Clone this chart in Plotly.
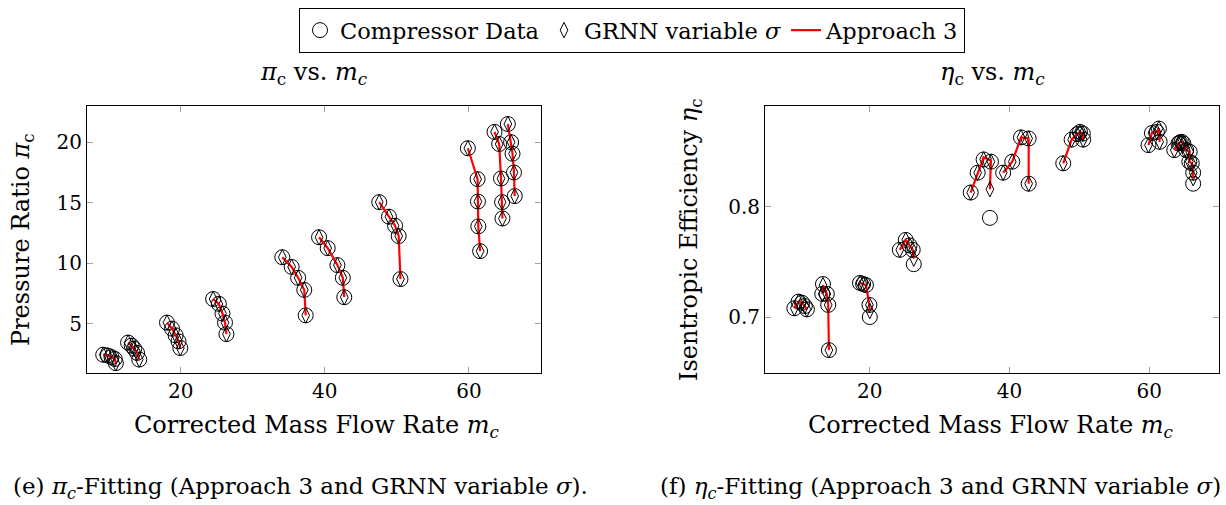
import plotly.graph_objects as go

# ---------------- pressure ratio map (pi_c vs m_c) ----------------
# one entry per measured point; pi_line gives the speed line each point belongs to
pi_line = [1]*5 + [2]*5 + [3]*5 + [4]*5 + [5]*5 + [6]*5 + [7]*5 + [8]*5 + [9]*5 + [10]*5
m_pi = [9.25, 9.9, 10.4, 10.85, 11.0,
        12.7, 13.2, 13.55, 13.95, 14.25,
        18.1, 18.8, 19.3, 19.7, 19.95,
        24.5, 25.3, 25.8, 26.15, 26.35,
        34.1, 35.4, 36.3, 37.15, 37.35,
        39.2, 40.4, 41.75, 42.5, 42.7,
        47.55, 48.9, 49.75, 50.25, 50.5,
        59.85, 61.2, 61.25, 61.3, 61.55,
        63.55, 64.2, 64.45, 64.6, 64.65,
        65.4, 65.85, 66.05, 66.25, 66.35]
pi_data = [2.45, 2.38, 2.25, 2.1, 1.75,
           3.45, 3.2, 2.95, 2.6, 2.05,
           5.1, 4.6, 4.05, 3.55, 3.0,
           7.05, 6.65, 5.85, 5.1, 4.15,
           10.5, 9.7, 8.8, 7.8, 5.7,
           12.15, 11.25, 9.85, 8.8, 7.2,
           15.05, 13.85, 13.1, 12.25, 8.7,
           19.5, 16.95, 15.1, 13.05, 11.0,
           20.85, 19.85, 17.0, 15.05, 13.7,
           21.5, 20.0, 19.05, 17.5, 15.55]
pi_grnn = [2.45, 2.38, 2.25, 2.1, 1.75,
           3.45, 3.2, 2.95, 2.6, 2.05,
           5.1, 4.6, 4.05, 3.55, 3.0,
           7.05, 6.65, 5.85, 5.1, 4.15,
           10.5, 9.7, 8.8, 7.8, 5.7,
           12.15, 11.25, 9.85, 8.8, 7.2,
           15.05, 13.85, 13.1, 12.25, 8.7,
           19.5, 16.95, 15.1, 13.05, 11.0,
           20.85, 19.85, 17.0, 15.05, 13.7,
           21.5, 20.0, 19.05, 17.5, 15.55]
pi_app3 = [2.45, 2.38, 2.25, 2.1, 1.75,
           3.45, 3.2, 2.95, 2.6, 2.05,
           5.1, 4.6, 4.05, 3.55, 3.0,
           7.05, 6.65, 5.85, 5.1, 4.15,
           10.5, 9.7, 8.8, 7.8, 5.7,
           12.15, 11.25, 9.85, 8.8, 7.2,
           15.05, 13.85, 13.1, 12.25, 8.7,
           19.5, 16.95, 15.1, 13.05, 11.0,
           20.85, 19.85, 17.0, 15.05, 13.7,
           21.5, 20.0, 19.05, 17.5, 15.55]

# ---------------- efficiency map (eta_c vs m_c) ----------------
eta_line = [1]*5 + [2]*5 + [3]*5 + [4]*5 + [5]*5 + [6]*5 + [7]*6 + [8]*5 + [9]*11
m_eta = [9.2, 9.8, 10.3, 10.7, 11.0,
         13.2, 13.3, 13.85, 14.05, 14.15,
         18.6, 19.05, 19.45, 19.95, 20.0,
         24.3, 25.15, 25.7, 26.15, 26.3,
         34.45, 35.45, 36.3, 37.35, 37.2,
         39.1, 40.4, 41.65, 42.75, 42.75,
         47.7, 48.9, 49.7, 50.1, 50.5, 50.55,
         59.9, 60.4, 61.1, 61.4, 61.5,
         63.6, 64.2, 64.4, 64.65, 64.9, 65.3, 65.8, 65.75, 66.1, 66.3, 66.3]
eta_data = [0.708, 0.714, 0.713, 0.710, 0.707,
            0.721, 0.730, 0.721, 0.711, 0.670,
            0.731, 0.730, 0.729, 0.711, 0.700,
            0.761, 0.770, 0.765, 0.761, 0.748,
            0.813, 0.831, 0.843, 0.841, 0.790,
            0.831, 0.841, 0.863, 0.862, 0.821,
            0.8395, 0.861, 0.866, 0.868, 0.8665, 0.861,
            0.856, 0.867, 0.868, 0.871, 0.859,
            0.8515, 0.8575, 0.8585, 0.859, 0.8575, 0.8515, 0.850, 0.841, 0.8395, 0.831, 0.821]
eta_grnn = [0.708, 0.714, 0.713, 0.710, 0.707,
            0.721, 0.729, 0.721, 0.711, 0.670,
            0.731, 0.730, 0.729, 0.711, 0.7055,
            0.761, 0.770, 0.765, 0.761, 0.753,
            0.813, 0.831, 0.843, 0.841, 0.816,
            0.831, 0.841, 0.863, 0.862, 0.821,
            0.8395, 0.861, 0.866, 0.868, 0.8665, 0.861,
            0.856, 0.867, 0.868, 0.871, 0.859,
            0.8515, 0.8575, 0.8585, 0.859, 0.8575, 0.8515, 0.850, 0.841, 0.8395, 0.831, 0.826]
eta_app3 = [0.708, 0.714, 0.713, 0.710, 0.707,
            0.721, 0.729, 0.721, 0.711, 0.670,
            0.731, 0.730, 0.729, 0.711, 0.7055,
            0.761, 0.770, 0.765, 0.761, 0.753,
            0.813, 0.831, 0.845, 0.842, 0.816,
            0.831, 0.841, 0.863, 0.862, 0.821,
            0.8395, 0.861, 0.866, 0.868, 0.8665, 0.861,
            0.856, 0.867, 0.868, 0.871, 0.859,
            0.8515, 0.8575, 0.8585, 0.859, 0.8575, 0.8515, 0.850, 0.841, 0.8395, 0.831, 0.826]

FONT = "DejaVu Serif"
W, H = 1226, 505


def split_lines(x, y, ids):
    """Insert gaps so each speed line is drawn as its own polyline."""
    xs, ys = [], []
    for i, (a, b) in enumerate(zip(x, y)):
        if i > 0 and ids[i] != ids[i - 1]:
            xs.append(None)
            ys.append(None)
        xs.append(a)
        ys.append(b)
    return xs, ys


circle = dict(symbol="circle-open", size=15, color="black", line=dict(width=1, color="black"))
diamond = dict(symbol="diamond-tall-open", size=11, color="black", line=dict(width=1, color="black"))
red = dict(color="#ff0000", width=2.2)

fig = go.Figure()

for k, (mx, data, grnn, app3, ids, xa, ya) in enumerate([
        (m_pi, pi_data, pi_grnn, pi_app3, pi_line, "x", "y"),
        (m_eta, eta_data, eta_grnn, eta_app3, eta_line, "x2", "y2")]):
    show = k == 0
    fig.add_trace(go.Scatter(x=mx, y=data, mode="markers", marker=circle,
                             name="Compressor Data", showlegend=show, legendrank=1,
                             xaxis=xa, yaxis=ya))
    lx, ly = split_lines(mx, app3, ids)
    fig.add_trace(go.Scatter(x=lx, y=ly, mode="lines", line=red,
                             name="Approach 3", showlegend=show, legendrank=3,
                             xaxis=xa, yaxis=ya))
    fig.add_trace(go.Scatter(x=mx, y=grnn, mode="markers", marker=diamond,
                             name="GRNN variable <i>σ</i>", showlegend=show, legendrank=2,
                             xaxis=xa, yaxis=ya))

axis_style = dict(showline=True, linecolor="black", linewidth=1, mirror="ticks",
                  ticks="inside", ticklen=6, tickwidth=1, tickcolor="#a0a0a0",
                  showgrid=False, zeroline=False,
                  tickfont=dict(family=FONT, size=20, color="black"))

fig.update_layout(
    width=W, height=H,
    margin=dict(l=0, r=0, t=0, b=0),
    paper_bgcolor="white", plot_bgcolor="white",
    font=dict(family=FONT, color="black"),
    xaxis=dict(domain=[87 / W, 541 / W], range=[7.0, 70.0], tickvals=[20, 40, 60], anchor="y", **axis_style),
    yaxis=dict(domain=[1 - 372.5 / H, 1 - 106 / H], range=[0.98, 22.99], tickvals=[5, 10, 15, 20], anchor="x", **axis_style),
    xaxis2=dict(domain=[765 / W, 1219 / W], range=[5.0, 70.0], tickvals=[20, 40, 60], anchor="y2", **axis_style),
    yaxis2=dict(domain=[1 - 372.5 / H, 1 - 106 / H], range=[0.6497, 0.8915], tickvals=[0.7, 0.8], anchor="x2", **axis_style),
    legend=dict(orientation="h", x=632 / W, xanchor="center", y=1 - 8 / H, yanchor="top",
                bordercolor="black", borderwidth=1, bgcolor="white",
                font=dict(family=FONT, size=22.5, color="black"),
                itemwidth=30, tracegroupgap=0),
)

def note(text, x, y, size=24, angle=0, xanchor="center"):
    fig.add_annotation(text=text, x=x / W, y=1 - y / H, xref="paper", yref="paper",
                       showarrow=False, textangle=angle, xanchor=xanchor, yanchor="middle",
                       font=dict(family=FONT, size=size, color="black"))

note("<i>π</i><sub>c</sub> vs. <i>m<sub>c</sub></i>", 314, 73)
note("<i>η</i><sub>c</sub> vs. <i>m<sub>c</sub></i>", 992, 73)
note("Corrected Mass Flow Rate <i>m<sub>c</sub></i>", 317, 426)
note("Corrected Mass Flow Rate <i>m<sub>c</sub></i>", 991, 426)
note("Pressure Ratio <i>π</i><sub>c</sub>", 22, 240, angle=-90)
note("Isentropic Efficiency <i>η</i><sub>c</sub>", 690, 240, angle=-90)
note("(e) <i>π<sub>c</sub></i>-Fitting (Approach 3 and GRNN variable <i>σ</i>).", 300, 488, size=23)
note("(f) <i>η<sub>c</sub></i>-Fitting (Approach 3 and GRNN variable <i>σ</i>)", 658, 488, size=23, xanchor="left")

fig.write_html("out.html")
